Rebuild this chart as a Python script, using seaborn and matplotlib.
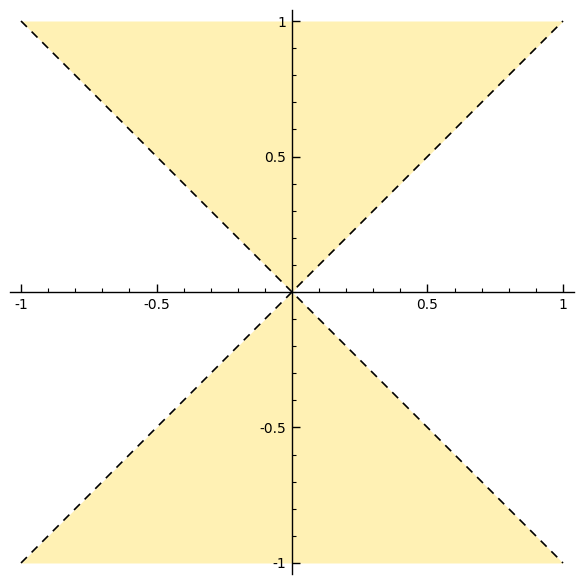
import matplotlib
matplotlib.use('Agg')
import matplotlib.pyplot as plt
import seaborn as sns
import numpy as np
from matplotlib.ticker import MultipleLocator, FixedLocator, FixedFormatter

# boundary lines y = x and y = -x sampled at the corners and origin
x_vals = [-1.0, 0.0, 1.0]
line_pos = [-1.0, 0.0, 1.0]
line_neg = [1.0, 0.0, -1.0]
top = [1.0, 1.0, 1.0]
bottom = [-1.0, -1.0, -1.0]
major_ticks = [-1.0, -0.5, 0.5, 1.0]
tick_labels = ['-1', '-0.5', '0.5', '1']

fill_color = '#fff1b4'

sns.set_style('white')
plt.rcParams['font.family'] = ['DejaVu Sans']

fig = plt.figure(figsize=(5.84, 5.84), dpi=100)
ax = fig.add_axes([0, 0, 1, 1])
ax.set_axisbelow(False)

upper_edge = np.maximum(line_pos, line_neg)
lower_edge = np.minimum(line_pos, line_neg)
ax.fill_between(x_vals, upper_edge, top, color=fill_color, lw=0, zorder=1)
ax.fill_between(x_vals, bottom, lower_edge, color=fill_color, lw=0, zorder=1)

sns.lineplot(x=x_vals, y=line_pos, ax=ax, color='black', lw=1.2, linestyle=(0, (5, 4)))
sns.lineplot(x=x_vals, y=line_neg, ax=ax, color='black', lw=1.2, linestyle=(0, (5, 4)))

ax.set_xlim(-1.0775, 1.0775)
ax.set_ylim(-1.0775, 1.0775)

for s in ['top', 'right']:
    ax.spines[s].set_visible(False)
ax.spines['left'].set_position(('data', 0))
ax.spines['bottom'].set_position(('data', 0))
ax.spines['left'].set_bounds(-1.04, 1.04)
ax.spines['bottom'].set_bounds(-1.04, 1.04)
for s in ['left', 'bottom']:
    ax.spines[s].set_color('black')
    ax.spines[s].set_linewidth(1.0)
    ax.spines[s].set_zorder(3)

ax.xaxis.set_major_locator(FixedLocator(major_ticks))
ax.xaxis.set_major_formatter(FixedFormatter(tick_labels))
ax.yaxis.set_major_locator(FixedLocator(major_ticks))
ax.yaxis.set_major_formatter(FixedFormatter(tick_labels))
ax.xaxis.set_minor_locator(MultipleLocator(0.1))
ax.yaxis.set_minor_locator(MultipleLocator(0.1))
ax.tick_params(which='major', direction='in', length=6, width=1, color='black',
               labelcolor='black', labelsize=10, pad=4, bottom=True, left=True)
ax.tick_params(which='minor', direction='in', length=3, width=0.8, color='black',
               bottom=True, left=True)
ax.set_xlabel('')
ax.set_ylabel('')

fig.savefig('out.png', dpi=100)
